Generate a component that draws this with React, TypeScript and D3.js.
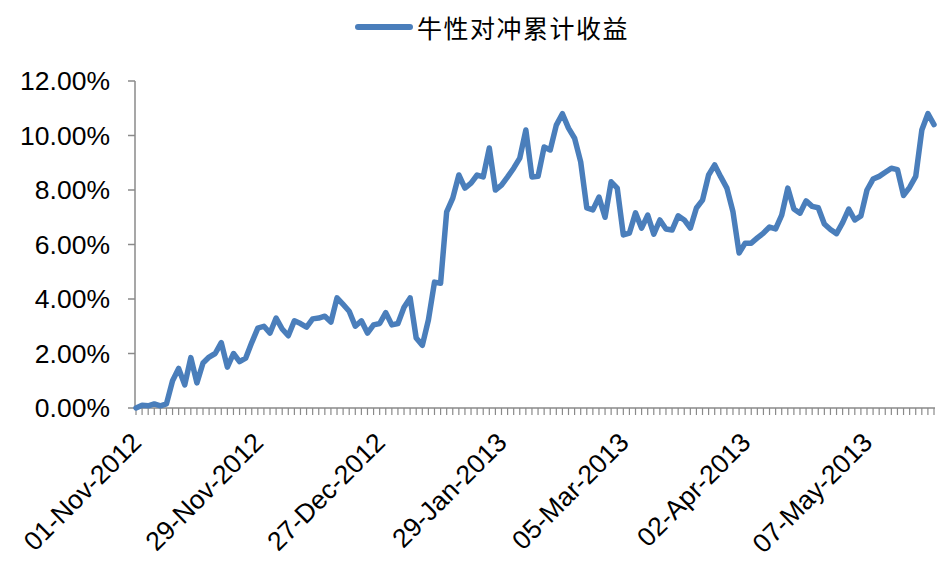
import React from 'react';
import * as d3 from 'd3';

const seriesName = '牛性对冲累计收益';

const values: number[] = [
  0.0, 0.1, 0.08, 0.15, 0.08, 0.15, 1.0, 1.45, 0.85, 1.85,
  0.92, 1.65, 1.87, 2.0, 2.4, 1.5, 2.0, 1.7, 1.83, 2.4,
  2.93, 3.0, 2.75, 3.3, 2.9, 2.65, 3.2, 3.1, 2.97, 3.27,
  3.3, 3.37, 3.15, 4.04, 3.8, 3.55, 3.0, 3.2, 2.75, 3.05,
  3.1, 3.5, 3.05, 3.1, 3.7, 4.04, 2.57, 2.3, 3.23, 4.62,
  4.58, 7.2, 7.7, 8.55, 8.07, 8.25, 8.55, 8.48, 9.54, 8.0,
  8.18, 8.48, 8.8, 9.17, 10.2, 8.48, 8.5, 9.58, 9.47, 10.38,
  10.8, 10.27, 9.9, 9.03, 7.34, 7.27, 7.74, 7.0, 8.3, 8.07,
  6.35, 6.42, 7.16, 6.6, 7.08, 6.38, 6.9, 6.57, 6.53, 7.05,
  6.9, 6.6, 7.34, 7.63, 8.55, 8.92, 8.48, 8.07, 7.2, 5.69,
  6.05, 6.05, 6.24, 6.42, 6.64, 6.57, 7.08, 8.07, 7.3, 7.15,
  7.6, 7.4, 7.35, 6.75, 6.55, 6.4, 6.8, 7.3, 6.9, 7.05,
  8.0, 8.4, 8.5, 8.65, 8.8, 8.75, 7.8, 8.1, 8.5, 10.2,
  10.8, 10.4,
];

const dateLabels = [
  '01-Nov-2012',
  '29-Nov-2012',
  '27-Dec-2012',
  '29-Jan-2013',
  '05-Mar-2013',
  '02-Apr-2013',
  '07-May-2013',
];
const labelStep = 20;

const yTicks = [0, 2, 4, 6, 8, 10, 12];

const W = 948;
const H = 576;
const LINE_COLOR = '#4a7ebb';
const AXIS_COLOR = '#8a8a8a';
const FONT = '"Liberation Sans", Arial, sans-serif';

export default function App() {
  const x = d3.scaleLinear().domain([0, values.length - 1]).range([136, 934]);
  const y = d3.scaleLinear().domain([0, 12]).range([408, 81]);
  const line = d3
    .line<number>()
    .x((_, i) => x(i))
    .y((d) => y(d));

  const x0 = x(0) - 1;
  const xEnd = x(values.length - 1) + 1;

  return (
    <svg
      width={W}
      height={H}
      style={{ position: 'absolute', left: 0, top: 0, background: '#fff' }}
    >
      {/* Legend */}
      <g>
        <line x1={358} x2={410} y1={27} y2={27} stroke={LINE_COLOR} strokeWidth={6} strokeLinecap="round" />
        <text
          x={417}
          y={27}
          dominantBaseline="central"
          fontFamily='"Noto Sans CJK SC", sans-serif'
          fontSize={25}
          letterSpacing={1.5}
          fill="#000"
        >
          {seriesName}
        </text>
      </g>

      {/* Y axis */}
      <g>
        <line x1={x0} x2={x0} y1={y(12)} y2={y(0)} stroke={AXIS_COLOR} strokeWidth={1.5} />
        {yTicks.map((t) => (
          <g key={t}>
            <line x1={x0 - 7} x2={x0} y1={y(t)} y2={y(t)} stroke={AXIS_COLOR} strokeWidth={1.5} />
            <text
              x={110}
              y={y(t)}
              textAnchor="end"
              dominantBaseline="central"
              fontFamily={FONT}
              fontSize={26.5}
              fill="#000"
            >
              {t.toFixed(2) + '%'}
            </text>
          </g>
        ))}
      </g>

      {/* X axis */}
      <g>
        <line x1={x0} x2={xEnd} y1={y(0)} y2={y(0)} stroke={AXIS_COLOR} strokeWidth={1.5} />
        {values.map((_, i) => (
          <line
            key={i}
            x1={x(i)}
            x2={x(i)}
            y1={y(0)}
            y2={y(0) + 7}
            stroke={AXIS_COLOR}
            strokeWidth={1.2}
          />
        ))}
        {dateLabels.map((lab, k) => {
          const px = x(k * labelStep);
          return (
            <text
              key={lab}
              transform={`translate(${px + 7},${y(0) + 36}) rotate(-45)`}
              textAnchor="end"
              fontFamily={FONT}
              fontSize={26.5}
              fill="#000"
            >
              {lab}
            </text>
          );
        })}
      </g>

      {/* Series line */}
      <path
        d={line(values) || ''}
        fill="none"
        stroke={LINE_COLOR}
        strokeWidth={5.5}
        strokeLinejoin="round"
        strokeLinecap="round"
      />
    </svg>
  );
}
